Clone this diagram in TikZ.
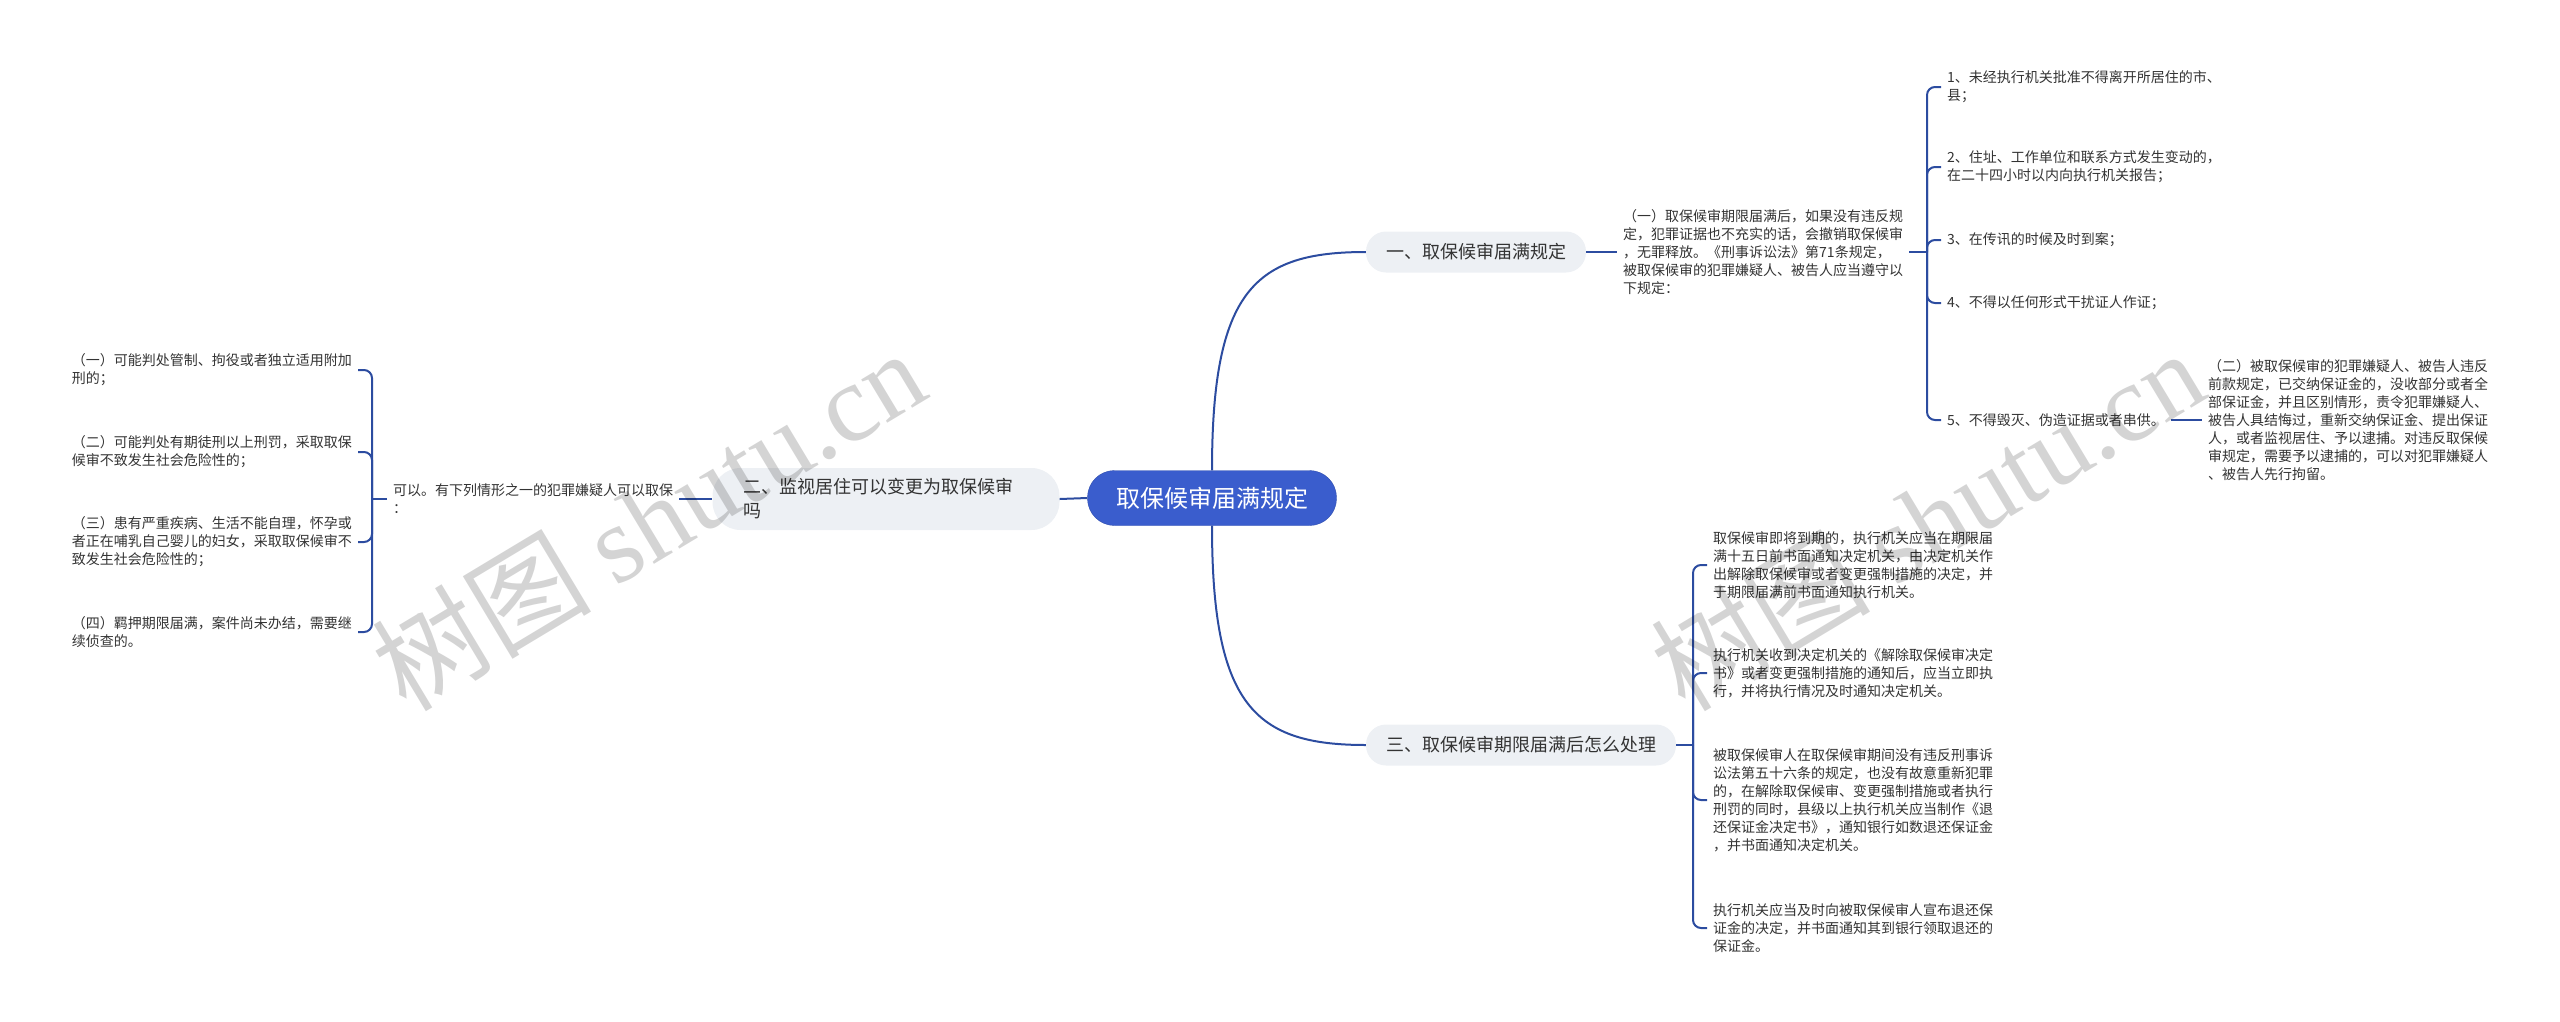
\documentclass[tikz,border=0pt]{standalone}
\usepackage{fontspec}
\setmainfont{Noto Sans CJK SC}
\newfontfamily\wmfont{Liberation Serif}
\definecolor{linkblue}{RGB}{44,76,160}
\definecolor{rootblue}{RGB}{58,93,205}
\definecolor{topicgray}{RGB}{237,240,244}
\definecolor{inkgray}{RGB}{51,51,51}
\begin{document}
\begin{tikzpicture}
    [x=1pt,y=-1pt,
    link/.style={draw=linkblue,line width=2pt},
    brace/.style={link,rounded corners=8pt},
    rootbox/.style={fill=rootblue,draw=rootblue!85!black,rounded corners=27pt,text=white,font=\fontsize{24}{28}\selectfont,minimum width=249pt,minimum height=55pt,inner sep=0pt},
    topic/.style={fill=topicgray,rounded corners=20pt,text=inkgray,font=\fontsize{18}{24}\selectfont,minimum height=41pt,inner xsep=20pt},
    leaf/.style={text=inkgray,align=left,font=\fontsize{14}{18}\selectfont,inner xsep=6pt,inner ysep=2pt},
    watermarktext/.style={text=black,opacity=0.17,font=\fontsize{110}{110}\selectfont,rotate=31}]
    \useasboundingbox (0,0) rectangle (2560,1021);
    %root and topics
    \node[rootbox] (root) at (1212,498) {取保候审届满规定};
    \node[topic] (one) at (1476,252) {一、取保候审届满规定};
    \node[topic,align=left,text width=285pt,inner xsep=31pt,inner ysep=6pt,minimum height=62pt,rounded corners=28pt] (two) at (886,499) {二、监视居住可以变更为取保候审\\吗};
    \node[topic] (three) at (1521,745) {三、取保候审期限届满后怎么处理};
    \draw[link] (root.north) .. controls (1212,290) and (1255,252) .. (one.west);
    \draw[link] (root.south) .. controls (1212,706) and (1255,745) .. (three.west);
    \draw[link] (root.west) -- (two.east);
    %first topic
    \node[leaf,anchor=west] (oneinfo) at (1617,252) {（一）取保候审期限届满后，如果没有违反规\\定，犯罪证据也不充实的话，会撤销取保候审\\，无罪释放。《刑事诉讼法》第71条规定，\\被取保候审的犯罪嫌疑人、被告人应当遵守以\\下规定：};
    \draw[link] (one.east) -- (oneinfo.west);
    \coordinate (jone) at (1927,252);
    \draw[link] (oneinfo.east) -- (jone);
    \node[leaf,anchor=west] (rule1) at (1941,87) {1、未经执行机关批准不得离开所居住的市、\\县；};
    \node[leaf,anchor=west] (rule2) at (1941,167) {2、住址、工作单位和联系方式发生变动的，\\在二十四小时以内向执行机关报告；};
    \node[leaf,anchor=west] (rule3) at (1941,240) {3、在传讯的时候及时到案；};
    \node[leaf,anchor=west] (rule4) at (1941,303) {4、不得以任何形式干扰证人作证；};
    \node[leaf,anchor=west] (rule5) at (1941,420) {5、不得毁灭、伪造证据或者串供。};
    \foreach \r in {1,...,5}
        \draw[brace] (jone) |- (rule\r.west);
    \node[leaf,anchor=west] (breach) at (2202,420) {（二）被取保候审的犯罪嫌疑人、被告人违反\\前款规定，已交纳保证金的，没收部分或者全\\部保证金，并且区别情形，责令犯罪嫌疑人、\\被告人具结悔过，重新交纳保证金、提出保证\\人，或者监视居住、予以逮捕。对违反取保候\\审规定，需要予以逮捕的，可以对犯罪嫌疑人\\、被告人先行拘留。};
    \draw[link] (rule5.east) -- (breach.west);
    %third topic
    \coordinate (jthree) at (1693,745);
    \draw[link] (three.east) -- (jthree);
    \node[leaf,anchor=west] (deal1) at (1707,565) {取保候审即将到期的，执行机关应当在期限届\\满十五日前书面通知决定机关，由决定机关作\\出解除取保候审或者变更强制措施的决定，并\\于期限届满前书面通知执行机关。};
    \node[leaf,anchor=west] (deal2) at (1707,673) {执行机关收到决定机关的《解除取保候审决定\\书》或者变更强制措施的通知后，应当立即执\\行，并将执行情况及时通知决定机关。};
    \node[leaf,anchor=west] (deal3) at (1707,800) {被取保候审人在取保候审期间没有违反刑事诉\\讼法第五十六条的规定，也没有故意重新犯罪\\的，在解除取保候审、变更强制措施或者执行\\刑罚的同时，县级以上执行机关应当制作《退\\还保证金决定书》，通知银行如数退还保证金\\，并书面通知决定机关。};
    \node[leaf,anchor=west] (deal4) at (1707,928) {执行机关应当及时向被取保候审人宣布退还保\\证金的决定，并书面通知其到银行领取退还的\\保证金。};
    \foreach \d in {1,...,4}
        \draw[brace] (jthree) |- (deal\d.west);
    %second topic
    \node[leaf,anchor=west] (allow) at (387,499) {可以。有下列情形之一的犯罪嫌疑人可以取保\\：};
    \draw[link] (allow.east) -- (two.west);
    \coordinate (jtwo) at (372,499);
    \draw[link] (allow.west) -- (jtwo);
    \node[leaf,anchor=east] (case1) at (358,370) {（一）可能判处管制、拘役或者独立适用附加\\刑的；};
    \node[leaf,anchor=east] (case2) at (358,452) {（二）可能判处有期徒刑以上刑罚，采取取保\\候审不致发生社会危险性的；};
    \node[leaf,anchor=east] (case3) at (358,542) {（三）患有严重疾病、生活不能自理，怀孕或\\者正在哺乳自己婴儿的妇女，采取取保候审不\\致发生社会危险性的；};
    \node[leaf,anchor=east] (case4) at (358,632) {（四）羁押期限届满，案件尚未办结，需要继\\续侦查的。};
    \foreach \c in {1,...,4}
        \draw[brace] (jtwo) |- (case\c.east);
    %watermarks
    \node[watermarktext] (wmleft) at (648,519) {树图 {\wmfont shutu.cn}};
    \node[watermarktext] (wmright) at (1927,519) {树图 {\wmfont shutu.cn}};
\end{tikzpicture}
\end{document}
